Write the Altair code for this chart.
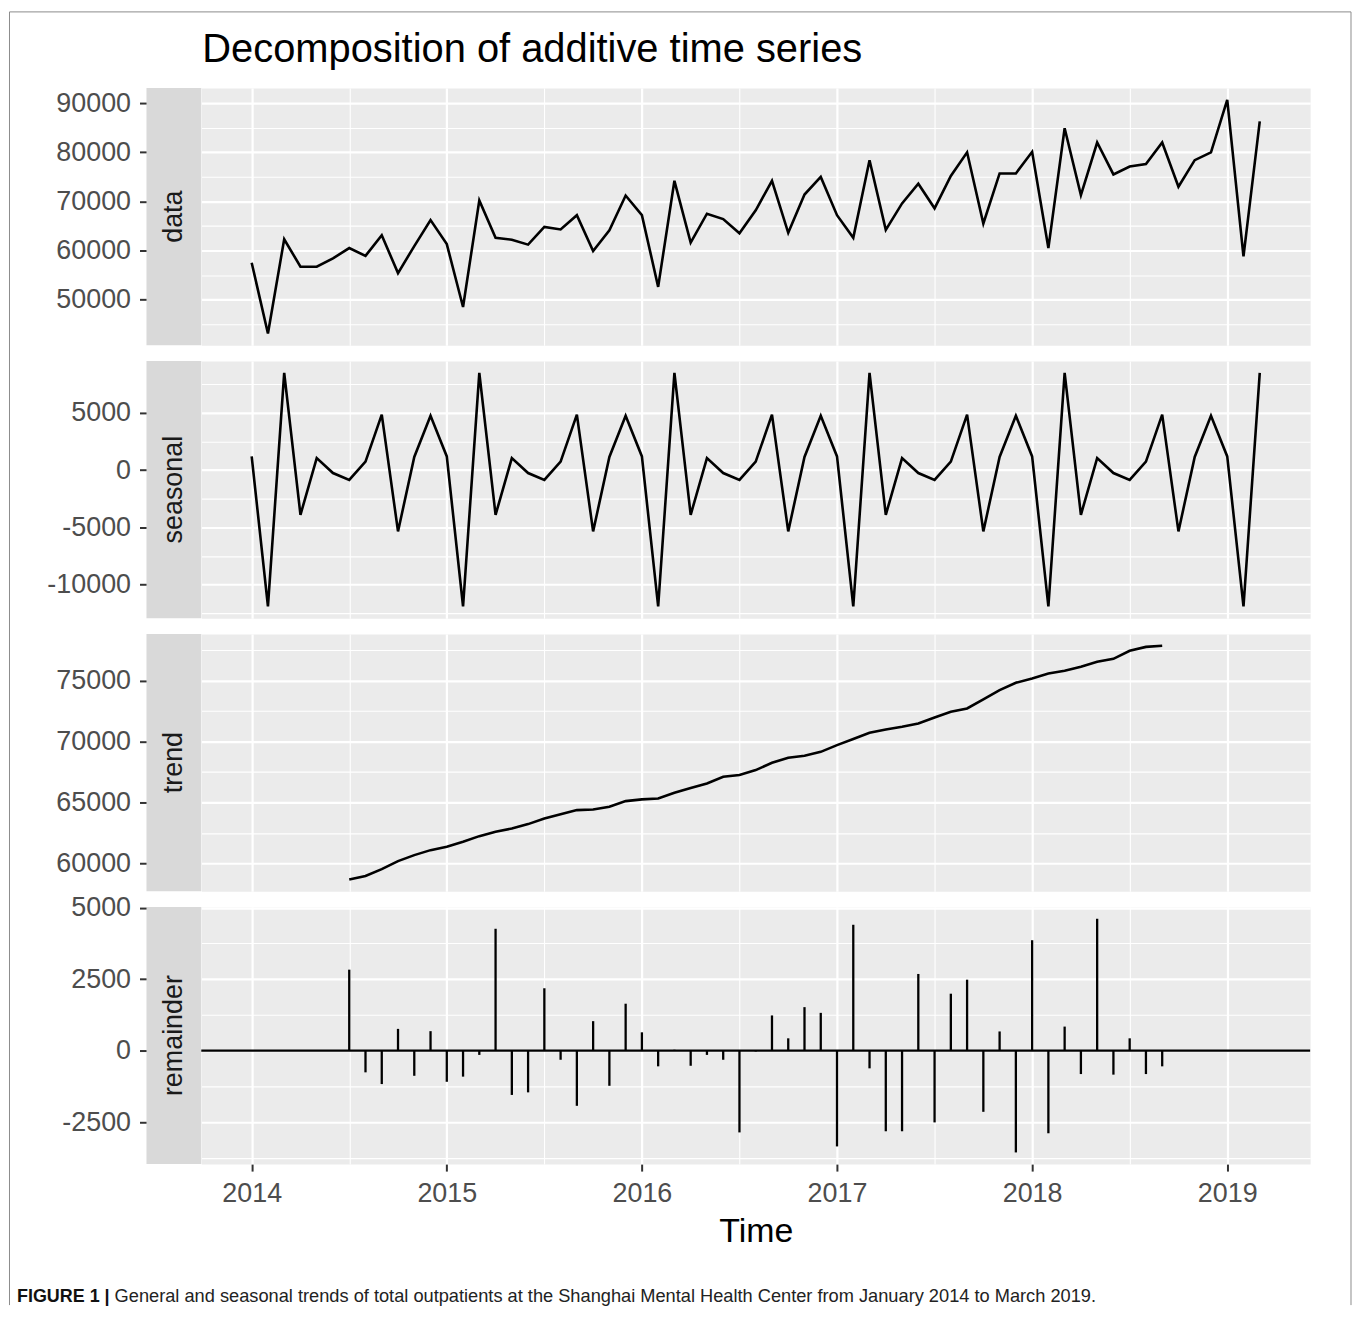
import altair as alt
import pandas as pd

START_YEAR = 2014

# observed monthly totals, Jan 2014 .. Mar 2019
data_values = [
    57500, 43100, 62300, 56700, 56700, 58400, 60500, 58900, 63100, 55400, 60900, 66200,
    61300, 48500, 70200, 62600, 62200, 61200, 64800, 64300, 67200, 59900, 64100, 71200,
    67200, 52600, 74200, 61600, 67500, 66400, 63500, 68200, 74200, 63600, 71400, 75000,
    67200, 62600, 78400, 64200, 69600, 73600, 68600, 75200, 80000, 65500, 75700, 75700,
    80100, 60500, 84900, 71300, 82000, 75500, 77100, 77600, 82000, 73000, 78400, 80000,
    90700, 58800, 86300,
]

# seasonal component, Jan 2014 .. Mar 2019
seasonal_values = [
    1200, -11900, 8500, -3900, 1050, -250, -850, 750, 4850, -5350, 1150, 4750,
    1200, -11900, 8500, -3900, 1050, -250, -850, 750, 4850, -5350, 1150, 4750,
    1200, -11900, 8500, -3900, 1050, -250, -850, 750, 4850, -5350, 1150, 4750,
    1200, -11900, 8500, -3900, 1050, -250, -850, 750, 4850, -5350, 1150, 4750,
    1200, -11900, 8500, -3900, 1050, -250, -850, 750, 4850, -5350, 1150, 4750,
    1200, -11900, 8500,
]

# trend and remainder, Jul 2014 .. Sep 2018
TREND_OFFSET = 6
trend_values = [
    58670, 58950, 59520, 60180, 60670, 61080,
    61360, 61770, 62230, 62590, 62860, 63220, 63680, 64040, 64370, 64420, 64640, 65110,
    65250, 65330, 65790, 66180, 66560, 67110, 67250, 67660, 68260, 68670, 68840, 69160,
    69710, 70210, 70730, 71000, 71220, 71490, 71990, 72450, 72730, 73480, 74230, 74840,
    75190, 75600, 75820, 76150, 76560, 76810, 77470, 77790, 77880,
]
remainder_values = [
    2830, -760, -1170, 760, -880, 680,
    -1090, -910, -150, 4260, -1550, -1460, 2180, -320, -1930, 1030, -1230, 1640,
    640, -550, 30, -530, -150, -320, -2860, -30, 1230, 430, 1520, 1320,
    -3350, 4400, -620, -2820, -2820, 2680, -2510, 1990, 2480, -2140, 670, -3560,
    3860, -2890, 840, -820, 4610, -840, 430, -820, -550,
]
zero_line = [0]

years = [2014, 2015, 2016, 2017, 2018, 2019]
half_years = [2014.5, 2015.5, 2016.5, 2017.5, 2018.5]

data_major = [50000, 60000, 70000, 80000, 90000]
data_minor = [45000, 55000, 65000, 75000, 85000]
seasonal_major = [-10000, -5000, 0, 5000]
seasonal_minor = [-12500, -7500, -2500, 2500, 7500]
trend_major = [60000, 65000, 70000, 75000]
trend_minor = [62500, 67500, 72500, 77500]
remainder_major = [-2500, 0, 2500, 5000]
remainder_minor = [-3750, -1250, 1250, 3750]

TITLE = "Decomposition of additive time series"
CAPTION_BOLD = "FIGURE 1 |"
CAPTION = ("General and seasonal trends of total outpatients at the Shanghai Mental "
           "Health Center from January 2014 to March 2019.")

FONT = "Liberation Sans"
W, H, GAP, STRIP = 1113, 258, 16, 55
BORDER = "#8C8C8C"
LINE_W = 2.6


def months(n, offset=0):
    return [START_YEAR + (offset + k) / 12 for k in range(n)]


df_data = pd.DataFrame({"t": months(len(data_values)), "v": data_values})
df_seasonal = pd.DataFrame({"t": months(len(seasonal_values)), "v": seasonal_values})
df_trend = pd.DataFrame({"t": months(len(trend_values), TREND_OFFSET), "v": trend_values})
df_rem = pd.DataFrame({"t": months(len(remainder_values), TREND_OFFSET), "v": remainder_values})
df_zero = pd.DataFrame({"v": zero_line})

span = (len(data_values) - 1) / 12
xscale = alt.Scale(domain=[START_YEAR - 0.05 * span, START_YEAR + 1.05 * span],
                   nice=False, zero=False)


def is_major(major):
    return "indexof([" + ",".join(str(m) for m in major) + "], datum.value) >= 0"


def y_scale(vals):
    lo, hi = min(vals), max(vals)
    r = hi - lo
    return alt.Scale(domain=[lo - 0.05 * r, hi + 0.05 * r], nice=False, zero=False)


def x_axis(bottom):
    test = is_major(years)
    common = dict(
        values=sorted(years + half_years), grid=True, gridColor="white",
        gridWidth={"condition": {"test": test, "value": 2.2}, "value": 1.1},
        domain=False, orient="bottom", labelOverlap=False,
    )
    if bottom:
        return alt.Axis(**common, labels=True, ticks=True, tickSize=7, tickWidth=2,
                        tickColor="#333333",
                        tickOpacity={"condition": {"test": test, "value": 1}, "value": 0},
                        labelFontSize=27, labelColor="#4D4D4D", labelPadding=10,
                        labelFlush=False,
                        labelExpr="(" + test + ") ? format(datum.value, 'd') : ''",
                        title="Time", titleFontSize=34, titleFontWeight="normal",
                        titleColor="black", titlePadding=8)
    return alt.Axis(**common, labels=False, ticks=False, title=None)


def y_axis(major, minor):
    test = is_major(major)
    return alt.Axis(
        values=sorted(major + minor), grid=True, gridColor="white",
        gridWidth={"condition": {"test": test, "value": 2.2}, "value": 1.1},
        domain=False, orient="left", offset=STRIP, ticks=True, tickSize=7,
        tickWidth=2, tickColor="#333333",
        tickOpacity={"condition": {"test": test, "value": 1}, "value": 0},
        labelFontSize=27, labelColor="#4D4D4D", labelPadding=9, labelOverlap=False,
        labelExpr="(" + test + ") ? (datum.value < 0 ? '-' + format(-datum.value, 'd') "
                  ": format(datum.value, 'd')) : ''",
        title=None)


def panel(label, df, kind, major, minor, bottom=False, extra=None):
    ys = y_scale(df["v"].tolist())
    strip_df = pd.DataFrame({"label": [label]})
    strip = alt.Chart(strip_df).mark_rect(color="#D9D9D9").encode(
        x=alt.value(-STRIP), x2=alt.value(0), y=alt.value(0), y2=alt.value(H))
    strip_text = alt.Chart(strip_df).mark_text(
        angle=270, fontSize=27, font=FONT, color="#1A1A1A", align="center",
        baseline="middle").encode(x=alt.value(-STRIP / 2), y=alt.value(H / 2), text="label:N")
    x = alt.X("t:Q", scale=xscale, axis=x_axis(bottom))
    y = alt.Y("v:Q", scale=ys, axis=y_axis(major, minor))
    layers = [strip, strip_text]
    if kind == "line":
        layers.append(alt.Chart(df).mark_line(color="black", strokeWidth=LINE_W).encode(x=x, y=y))
    else:
        layers.append(alt.Chart(df_zero).mark_rule(color="black", strokeWidth=2.3).encode(y=y))
        layers.append(alt.Chart(df).mark_rule(color="black", strokeWidth=2.3).encode(
            x=x, y=y, y2=alt.Y2("zero:Q")).transform_calculate(zero="0"))
    if extra:
        layers.extend(extra)
    return alt.layer(*layers).properties(width=W, height=H)


one = pd.DataFrame({"k": [0]})

# title (relative to the data panel)
title_df = pd.DataFrame({"text": [TITLE]})
title_layer = alt.Chart(title_df).mark_text(
    font=FONT, fontSize=40, align="left", baseline="alphabetic", color="black").encode(
    x=alt.value(1), y=alt.value(-26), text="text:N")

# figure frame (relative to the seasonal panel's origin)
PANEL2_TOP = H + GAP
bl, br = -192.5, 1154
bt, bb = -PANEL2_TOP - 76.5, 1309.5 - 88 - PANEL2_TOP
frame = [
    alt.Chart(one).mark_rule(color=BORDER, strokeWidth=1).encode(
        x=alt.value(bl), y=alt.value(bt), y2=alt.value(bb)),
    alt.Chart(one).mark_rule(color=BORDER, strokeWidth=1).encode(
        x=alt.value(br), y=alt.value(bt), y2=alt.value(bb)),
    alt.Chart(one).mark_rule(color=BORDER, strokeWidth=1).encode(
        x=alt.value(bl), x2=alt.value(br), y=alt.value(bt)),
]

# caption (relative to the remainder panel)
cap_df = pd.DataFrame({"bold": [CAPTION_BOLD], "text": [CAPTION]})
caption = [
    alt.Chart(cap_df).mark_text(font=FONT, fontSize=18, fontWeight="bold", align="left",
                                baseline="alphabetic", color="#111111").encode(
        x=alt.value(-185), y=alt.value(396), text="bold:N"),
    alt.Chart(cap_df).mark_text(font=FONT, fontSize=18.3, align="left",
                                baseline="alphabetic", color="#222222").encode(
        x=alt.value(-87), y=alt.value(396), text="text:N"),
]

p_data = panel("data", df_data, "line", data_major, data_minor, extra=[title_layer])
p_seasonal = panel("seasonal", df_seasonal, "line", seasonal_major, seasonal_minor, extra=frame)
p_trend = panel("trend", df_trend, "line", trend_major, trend_minor)
p_rem = panel("remainder", df_rem, "rule", remainder_major, remainder_minor,
              bottom=True, extra=caption)

chart = alt.vconcat(p_data, p_seasonal, p_trend, p_rem, spacing=GAP, bounds="flush").properties(
    padding=0, background="white"
).configure_view(fill="#EBEBEB", stroke="transparent").configure_axis(
    labelFont=FONT, titleFont=FONT
)

chart.save("out.html", embed_options={"renderer": "svg", "actions": False})
